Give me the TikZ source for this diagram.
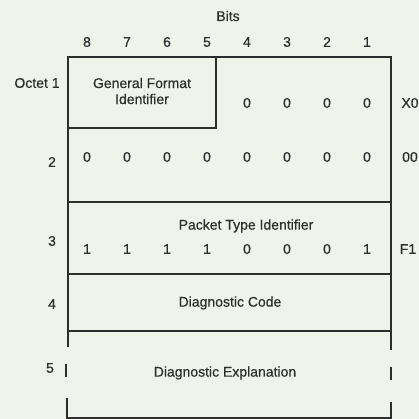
\documentclass[tikz,border=0pt]{standalone}
\usepackage{fontspec}
\setmainfont{Liberation Sans}
\newfontfamily\mfont[FakeBold=0.5]{Liberation Sans}
\definecolor{bg}{HTML}{EEF4EA}
\definecolor{ink}{HTML}{2E2E2E}
\begin{document}
\begin{tikzpicture}[x=1pt,y=-1pt,
  lbl/.style={text=ink,font=\mfont\fontsize{14}{16}\selectfont,inner sep=0pt,anchor=center},
  rule/.style={draw=ink,line width=1.1pt}]
\fill[bg] (0,0) rectangle (419,419);
\useasboundingbox (0,0) rectangle (419,419);
% frame
\draw[rule] (68,347) -- (68,57) -- (391,57) -- (391,350);
\draw[rule] (216,57) -- (216,128) -- (68,128);
\draw[rule] (68,202) -- (391,202);
\draw[rule] (68,274) -- (391,274);
\draw[rule] (68,331) -- (391,331);
\draw[rule] (66,364) -- (66,377);
\draw[rule] (391,367) -- (391,380);
\draw[rule] (67,398) -- (67,418) -- (391,418) -- (391,402);
% headings
\node[lbl] (bits) at (228,16) {Bits};
\foreach \b [count=\i from 0] in {8,7,6,5,4,3,2,1}
  \node[lbl] (b\b) at (87+40*\i,42) {\b};
\node[lbl] (o1) at (37,83) {Octet 1};
\node[lbl,align=center] (gfi) at (142,91) {General Format\\Identifier};
\foreach \i in {4,5,6,7}
  \node[lbl] (r1z\i) at (87+40*\i,103) {0};
\node[lbl] (x0) at (410,103) {X0};
\node[lbl] (o2) at (52,162) {2};
\foreach \i in {0,...,7}
  \node[lbl] (r2z\i) at (87+40*\i,157) {0};
\node[lbl] (h00) at (410,157) {00};
\node[lbl] (o3) at (52,241) {3};
\node[lbl] (pti) at (246,226) {Packet Type Identifier};
\foreach \v [count=\i from 0] in {1,1,1,1,0,0,0,1}
  \node[lbl] (r3z\i) at (87+40*\i,249) {\v};
\node[lbl] (f1) at (408,249) {F1};
\node[lbl] (o4) at (52,304) {4};
\node[lbl] (dc) at (230,303) {Diagnostic Code};
\node[lbl] (o5) at (50,368) {5};
\node[lbl] (de) at (225,373) {Diagnostic Explanation};
\end{tikzpicture}
\end{document}
